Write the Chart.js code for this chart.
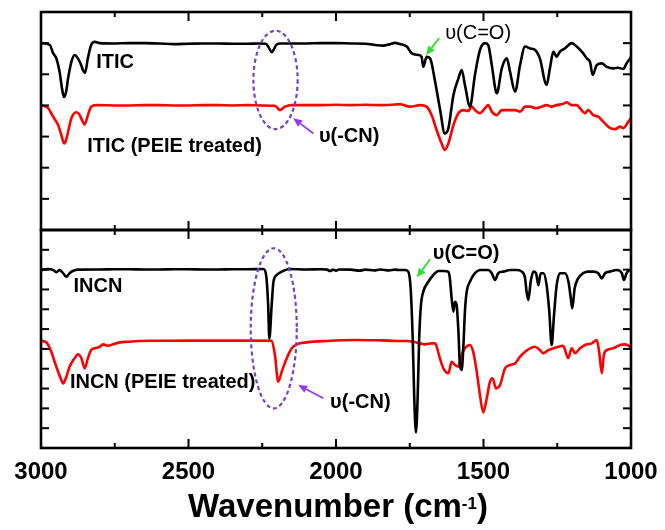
<!DOCTYPE html>
<html>
<head>
<meta charset="utf-8">
<script src="https://cdn.jsdelivr.net/npm/chart.js@4"></script>
<style>
  html, body { margin: 0; padding: 0; background: #fff; }
  #wrap { position: relative; width: 665px; height: 530px; }
  canvas { position: absolute; left: 0; }
</style>
</head>
<body>
<div id="wrap">
  <canvas id="topPanel" width="665" height="240" style="top:0"></canvas>
  <canvas id="bottomPanel" width="665" height="310" style="top:220px"></canvas>
</div>
<script>
// FTIR spectra, pairs of [wavenumber (cm-1), transmittance (a.u., offset)]
const ITIC = [
  [3000,6.00],[2970,5.94],[2959,5.68],[2948,5.51],[2937,5.08],[2929,4.56],[2922,4.27],[2915,4.43],
  [2908,4.88],[2897,5.40],[2886,5.62],[2875,5.51],[2864,5.30],[2858,5.14],[2851,5.04],[2841,5.52],
  [2830,5.94],[2818,6.04],[2800,6.00],[2750,5.99],[2700,6.00],[2650,6.00],[2600,5.99],[2550,5.97],
  [2500,5.98],[2450,5.99],[2400,5.99],[2350,5.98],[2300,5.98],[2260,5.99],[2240,5.98],[2235,5.96],
  [2227,5.84],[2218,5.71],[2210,5.81],[2203,5.94],[2190,5.99],[2150,5.99],[2100,5.99],[2050,6.00],
  [2000,6.00],[1950,5.99],[1900,5.98],[1860,5.93],[1840,5.92],[1820,5.96],[1800,6.01],[1783,5.97],
  [1760,5.89],[1743,5.67],[1721,5.62],[1710,5.56],[1704,5.24],[1693,5.56],[1681,5.51],[1664,4.76],
  [1648,3.91],[1631,3.10],[1619,3.27],[1602,4.33],[1585,4.87],[1574,5.14],[1563,4.66],[1546,3.96],
  [1529,4.98],[1512,5.78],[1495,6.00],[1484,5.94],[1472,5.30],[1455,4.39],[1438,5.19],[1421,5.51],
  [1410,5.08],[1393,4.44],[1376,5.30],[1359,5.89],[1342,5.83],[1325,5.78],[1309,5.51],[1286,4.66],
  [1275,5.19],[1263,5.73],[1252,5.56],[1241,5.73],[1224,5.83],[1201,6.00],[1184,5.89],[1162,5.67],
  [1150,5.51],[1139,5.40],[1130,4.98],[1116,5.30],[1099,5.35],[1082,5.24],[1060,5.19],[1043,5.21],
  [1026,5.17],[1015,5.35],[1003,5.51],[1000,5.55]
];

const ITIC_PEIE = [
  [3000,4.01],[2976,3.91],[2959,3.64],[2942,3.37],[2931,3.05],[2922,2.78],[2915,2.89],[2908,3.16],
  [2897,3.59],[2880,3.78],[2869,3.69],[2861,3.53],[2852,3.39],[2841,3.69],[2830,3.96],[2812,4.01],
  [2750,4.00],[2700,4.00],[2650,4.01],[2600,4.01],[2550,4.00],[2500,4.00],[2450,4.01],[2400,4.01],
  [2350,4.00],[2300,4.01],[2250,4.00],[2207,3.99],[2190,3.85],[2173,3.96],[2150,4.01],[2100,4.01],
  [2050,4.01],[2000,4.02],[1950,4.01],[1900,4.02],[1850,4.01],[1800,4.03],[1783,4.04],[1749,3.96],
  [1715,4.01],[1693,3.96],[1676,3.69],[1659,3.21],[1642,2.78],[1631,2.57],[1619,2.78],[1602,3.37],
  [1585,3.75],[1569,3.85],[1552,3.82],[1540,3.96],[1529,3.85],[1512,3.75],[1495,3.91],[1484,4.01],
  [1472,3.80],[1455,3.69],[1438,3.85],[1416,3.85],[1393,3.85],[1376,3.80],[1359,3.96],[1342,3.96],
  [1320,3.91],[1303,3.96],[1286,4.01],[1269,3.96],[1252,4.01],[1230,4.05],[1218,4.10],[1201,4.01],
  [1184,4.01],[1173,3.91],[1156,3.75],[1145,3.85],[1128,3.69],[1111,3.64],[1094,3.48],[1071,3.27],
  [1054,3.24],[1037,3.32],[1026,3.27],[1009,3.48],[1000,3.60]
];

const INCN = [
  [3000,8.98],[2976,9.03],[2959,8.98],[2948,8.87],[2937,8.98],[2925,8.82],[2914,8.64],[2903,8.82],
  [2892,8.93],[2875,9.00],[2800,9.01],[2750,9.02],[2700,9.02],[2650,9.01],[2600,9.01],[2550,9.02],
  [2500,9.02],[2450,9.01],[2400,9.01],[2350,9.02],[2300,9.02],[2246,9.03],[2237,8.73],[2230,7.22],
  [2226,5.52],[2218,7.22],[2212,8.39],[2201,8.73],[2184,8.90],[2156,9.03],[2100,9.01],[2050,9.02],
  [2030,9.00],[2020,8.93],[2010,9.00],[2000,8.95],[1990,9.01],[1950,9.00],[1920,8.95],[1900,9.00],
  [1870,8.96],[1850,9.01],[1820,8.96],[1800,9.00],[1783,8.98],[1766,8.98],[1755,8.90],[1747,8.06],
  [1740,5.54],[1735,2.67],[1729,0.78],[1723,2.67],[1718,5.54],[1712,7.22],[1704,7.89],[1687,8.39],
  [1670,8.73],[1653,8.93],[1636,8.93],[1619,8.90],[1614,8.56],[1608,7.55],[1602,6.88],[1597,7.38],
  [1591,7.22],[1585,5.87],[1580,4.19],[1574,3.94],[1568,5.20],[1563,6.88],[1557,7.89],[1546,8.39],
  [1529,8.82],[1512,8.98],[1484,8.98],[1472,8.82],[1461,8.48],[1450,8.82],[1433,8.90],[1410,8.98],
  [1387,8.98],[1370,8.90],[1359,8.56],[1354,7.89],[1348,7.47],[1340,8.39],[1331,8.90],[1322,8.82],
  [1314,8.22],[1306,8.82],[1297,8.82],[1286,8.22],[1277,6.88],[1269,5.20],[1261,6.71],[1252,8.22],
  [1241,8.82],[1224,8.82],[1212,8.39],[1204,7.55],[1199,7.05],[1191,8.06],[1179,8.56],[1162,8.82],
  [1145,8.90],[1128,8.90],[1111,8.82],[1099,8.56],[1088,8.82],[1071,8.90],[1048,8.98],[1031,8.82],
  [1024,8.48],[1015,8.82],[1003,8.98],[1000,8.98]
];

const INCN_PEIE = [
  [3000,5.40],[2982,5.33],[2965,4.86],[2954,4.35],[2942,3.85],[2931,3.43],[2925,3.26],[2914,3.60],
  [2903,4.10],[2886,4.53],[2875,4.73],[2863,4.53],[2852,4.02],[2841,4.53],[2830,4.94],[2818,5.03],
  [2801,5.11],[2790,5.23],[2773,5.16],[2756,5.23],[2733,5.33],[2705,5.36],[2671,5.40],[2600,5.41],
  [2500,5.42],[2400,5.42],[2300,5.42],[2218,5.41],[2207,4.69],[2196,3.35],[2184,3.85],[2167,4.53],
  [2150,5.03],[2133,5.23],[2099,5.33],[2032,5.40],[1930,5.45],[1850,5.43],[1783,5.40],[1760,5.40],
  [1738,5.36],[1715,5.28],[1698,5.23],[1676,5.28],[1664,5.28],[1657,5.03],[1648,4.53],[1636,4.02],
  [1619,3.77],[1608,4.35],[1597,4.19],[1585,4.10],[1574,4.69],[1563,5.03],[1546,5.20],[1535,4.86],
  [1523,3.85],[1512,2.67],[1501,1.80],[1489,2.51],[1478,3.35],[1469,3.52],[1458,3.01],[1444,3.18],
  [1427,4.02],[1410,4.19],[1393,4.27],[1376,4.61],[1359,4.86],[1342,5.03],[1325,5.11],[1309,4.94],
  [1297,4.78],[1280,4.94],[1263,5.03],[1246,5.11],[1230,5.16],[1213,4.53],[1201,5.03],[1190,4.78],
  [1173,5.03],[1156,5.20],[1133,5.28],[1116,5.45],[1108,4.86],[1099,3.77],[1092,4.69],[1082,4.94],
  [1060,5.03],[1037,5.20],[1020,5.23],[1003,5.11],[1000,5.05]
];

const X_TICK_LABELS = [3000, 2500, 2000, 1500, 1000];
const X_RANGE = [1000, 3000];
const TOP_RANGE = [0, 7];      // one y tick per unit
const BOTTOM_RANGE = [0, 11];

const FONT = '"Liberation Sans", Arial, Helvetica, sans-serif';
const PURPLE_RING = '#7840c4';
const PURPLE_ARROW = '#8f3cf2';
const GREEN_ARROW = '#2ee02e';

// Labels, arrows and dashed rings placed in data units (wavenumber, transmittance)
const topNotes = {
  texts: [
    { text: 'ITIC', wn: 2813, t: 5.19, weight: 'bold' },
    { text: 'ITIC (PEIE treated)', wn: 2843, t: 2.51, weight: 'bold' },
    { text: 'υ(C=O)', wn: 1630, t: 6.13, weight: 'normal' },
    { text: 'υ(-CN)', wn: 2058, t: 2.81, weight: 'bold' }
  ],
  arrows: [
    { from: [1650, 6.16], to: [1695, 5.62], color: GREEN_ARROW },
    { from: [2077, 3.10], to: [2145, 3.59], color: PURPLE_ARROW }
  ],
  rings: [
    { wn: 2205, t: 4.82, dwn: 75, dt: 1.58 }
  ]
};

const bottomNotes = {
  texts: [
    { text: 'INCN', wn: 2890, t: 7.85, weight: 'bold' },
    { text: 'INCN (PEIE treated)', wn: 2902, t: 3.01, weight: 'bold' },
    { text: 'υ(C=O)', wn: 1672, t: 9.56, weight: 'bold' },
    { text: 'υ(-CN)', wn: 2020, t: 2.02, weight: 'bold' }
  ],
  arrows: [
    { from: [1681, 9.52], to: [1726, 8.61], color: GREEN_ARROW },
    { from: [2043, 2.51], to: [2128, 3.18], color: PURPLE_ARROW }
  ],
  rings: [
    { wn: 2211, t: 6.04, dwn: 78, dt: 4.04 }
  ]
};

const toPoints = arr => arr.map(([x, y]) => ({ x, y }));

function series(data, color) {
  return {
    data: toPoints(data),
    borderColor: color,
    borderWidth: 2.6,
    pointRadius: 0,
    fill: false,
    cubicInterpolationMode: 'monotone'
  };
}

// Frame with inward ticks on all four sides
const framePlugin = {
  id: 'frame',
  afterDraw(chart) {
    const { ctx, chartArea: a, scales: { x, y } } = chart;
    ctx.save();
    ctx.strokeStyle = '#000';
    ctx.lineWidth = 2;
    ctx.lineCap = 'butt';
    const seg = (x0, y0, x1, y1) => { ctx.beginPath(); ctx.moveTo(x0, y0); ctx.lineTo(x1, y1); ctx.stroke(); };
    for (let v = X_RANGE[0]; v <= X_RANGE[1]; v += 250) {
      const px = x.getPixelForValue(v);
      const len = v % 500 === 0 ? 9 : 5;
      seg(px, a.top, px, a.top + len);
      seg(px, a.bottom, px, a.bottom - len);
    }
    for (let v = y.min; v <= y.max; v += 1) {
      const py = y.getPixelForValue(v);
      seg(a.left, py, a.left + 8, py);
      seg(a.right, py, a.right - 8, py);
    }
    ctx.lineWidth = 2.6;
    ctx.strokeRect(a.left, a.top, a.right - a.left, a.bottom - a.top);
    ctx.restore();
  }
};

function notesPlugin(notes) {
  return {
    id: 'notes',
    afterDatasetsDraw(chart) {
      const { ctx, scales: { x, y } } = chart;
      ctx.save();
      notes.rings.forEach(r => {
        const cx = x.getPixelForValue(r.wn), cy = y.getPixelForValue(r.t);
        const rx = Math.abs(x.getPixelForValue(r.wn + r.dwn) - cx);
        const ry = Math.abs(y.getPixelForValue(r.t + r.dt) - cy);
        ctx.beginPath();
        ctx.setLineDash([4, 3]);
        ctx.lineWidth = 2.2;
        ctx.strokeStyle = PURPLE_RING;
        ctx.ellipse(cx, cy, rx, ry, 0, 0, Math.PI * 2);
        ctx.stroke();
      });
      ctx.setLineDash([]);
      notes.arrows.forEach(ar => {
        const x0 = x.getPixelForValue(ar.from[0]), y0 = y.getPixelForValue(ar.from[1]);
        const x1 = x.getPixelForValue(ar.to[0]), y1 = y.getPixelForValue(ar.to[1]);
        const ang = Math.atan2(y1 - y0, x1 - x0);
        const head = 9, half = 4;
        const bx = x1 - head * Math.cos(ang), by = y1 - head * Math.sin(ang);
        ctx.strokeStyle = ar.color;
        ctx.fillStyle = ar.color;
        ctx.lineWidth = 1.8;
        ctx.beginPath(); ctx.moveTo(x0, y0); ctx.lineTo(bx, by); ctx.stroke();
        ctx.beginPath();
        ctx.moveTo(x1, y1);
        ctx.lineTo(bx + half * Math.sin(ang), by - half * Math.cos(ang));
        ctx.lineTo(bx - half * Math.sin(ang), by + half * Math.cos(ang));
        ctx.closePath();
        ctx.fill();
      });
      ctx.fillStyle = '#000';
      ctx.textAlign = 'left';
      ctx.textBaseline = 'alphabetic';
      notes.texts.forEach(t => {
        ctx.font = `${t.weight} 20px ${FONT}`;
        ctx.fillText(t.text, x.getPixelForValue(t.wn), y.getPixelForValue(t.t));
      });
      ctx.restore();
    }
  };
}

// Wavenumber tick labels and axis title under the lower panel
const axisTextPlugin = {
  id: 'axisText',
  afterDraw(chart) {
    const { ctx, chartArea: a, scales: { x } } = chart;
    ctx.save();
    ctx.fillStyle = '#000';
    ctx.textBaseline = 'alphabetic';
    ctx.textAlign = 'center';
    ctx.font = `bold 24px ${FONT}`;
    X_TICK_LABELS.forEach(v => ctx.fillText(String(v), x.getPixelForValue(v), a.bottom + 31));

    const main = 'Wavenumber (cm', sup = '-1', close = ')';
    const mainFont = `bold 33px ${FONT}`, supFont = `bold 17px ${FONT}`;
    ctx.font = mainFont; const wMain = ctx.measureText(main).width, wClose = ctx.measureText(close).width;
    ctx.font = supFont; const wSup = ctx.measureText(sup).width;
    const total = wMain + wSup + wClose;
    let sx = (a.left + a.right) / 2 + 2 - total / 2;
    const base = a.bottom + 69;
    ctx.textAlign = 'left';
    ctx.font = mainFont; ctx.fillText(main, sx, base); sx += wMain;
    ctx.font = supFont; ctx.fillText(sup, sx, base - 8); sx += wSup;
    ctx.font = mainFont; ctx.fillText(close, sx, base);
    ctx.restore();
  }
};

function panelOptions(range, pad) {
  return {
    responsive: false,
    animation: false,
    events: [],
    layout: { padding: pad },
    plugins: { legend: { display: false }, tooltip: { enabled: false } },
    scales: {
      x: { type: 'linear', reverse: true, min: X_RANGE[0], max: X_RANGE[1], display: false },
      y: { type: 'linear', min: range[0], max: range[1], display: false }
    }
  };
}

new Chart(document.getElementById('topPanel'), {
  type: 'line',
  data: { datasets: [series(ITIC, '#000000'), series(ITIC_PEIE, '#ff0000')] },
  options: panelOptions(TOP_RANGE, { left: 41, right: 34, top: 12, bottom: 10 }),
  plugins: [notesPlugin(topNotes), framePlugin]
});

new Chart(document.getElementById('bottomPanel'), {
  type: 'line',
  data: { datasets: [series(INCN, '#000000'), series(INCN_PEIE, '#ff0000')] },
  options: panelOptions(BOTTOM_RANGE, { left: 41, right: 34, top: 10, bottom: 82 }),
  plugins: [notesPlugin(bottomNotes), framePlugin, axisTextPlugin]
});
</script>
</body>
</html>
